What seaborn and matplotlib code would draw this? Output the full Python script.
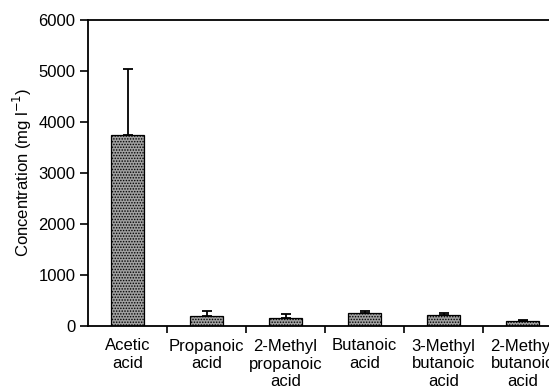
import numpy as np
import pandas as pd
import matplotlib
matplotlib.use("Agg")
import matplotlib.pyplot as plt
import seaborn as sns

# Volatile fatty acid concentrations
acids = ["Acetic\nacid", "Propanoic\nacid", "2-Methyl\npropanoic\nacid",
         "Butanoic\nacid", "3-Methyl\nbutanoic\nacid", "2-Methyl\nbutanoic\nacid"]
means = [3740, 205, 150, 250, 212, 98]
errors = [1300, 90, 80, 45, 43, 27]

df = pd.DataFrame({"acid": acids, "conc": means})

sns.set_style("ticks")
plt.rcParams["font.family"] = ["Liberation Sans", "DejaVu Sans"]
plt.rcParams["hatch.color"] = "#444444"
plt.rcParams["hatch.linewidth"] = 0.7
plt.rcParams["text.color"] = "black"
plt.rcParams["axes.labelcolor"] = "black"
plt.rcParams["xtick.color"] = "black"
plt.rcParams["ytick.color"] = "black"

fig = plt.figure(figsize=(5.49, 3.9), dpi=100)
ax = fig.add_axes([88 / 549, 64 / 390, 553 / 549, 306.5 / 390])

sns.barplot(data=df, x="acid", y="conc", color="#a0a0a0", width=0.41,
            edgecolor="black", linewidth=0.9, ax=ax, errorbar=None)
for bar in ax.patches:
    bar.set_hatch("......")

x = np.arange(len(acids))
ax.errorbar(x, means, yerr=[np.zeros(len(errors)), errors], fmt="none",
            ecolor="black", elinewidth=1.3, capsize=3.5, capthick=1.3)

ax.set_xlim(-0.5, 6.5)
ax.set_ylim(0, 6000)
ax.set_yticks(range(0, 6001, 1000))
ax.set_xticks(x)
ax.set_xticklabels(acids, fontsize=12, linespacing=1.25)
ax.set_xticks(np.arange(0.5, 6.5, 1), minor=True)
ax.tick_params(axis="x", which="major", length=0, pad=9)
ax.tick_params(axis="x", which="minor", length=5, width=1.2, direction="out")
ax.tick_params(axis="y", length=6, width=1.2, direction="out", labelsize=12, pad=3)

ax.set_xlabel("")
ax.set_ylabel("Concentration (mg l$^{-1}$)", fontsize=12, labelpad=3)

for side in ["left", "bottom", "top"]:
    ax.spines[side].set_visible(True)
    ax.spines[side].set_linewidth(1.3)
    ax.spines[side].set_color("black")
ax.spines["right"].set_visible(False)

fig.savefig("out.png", dpi=100)
